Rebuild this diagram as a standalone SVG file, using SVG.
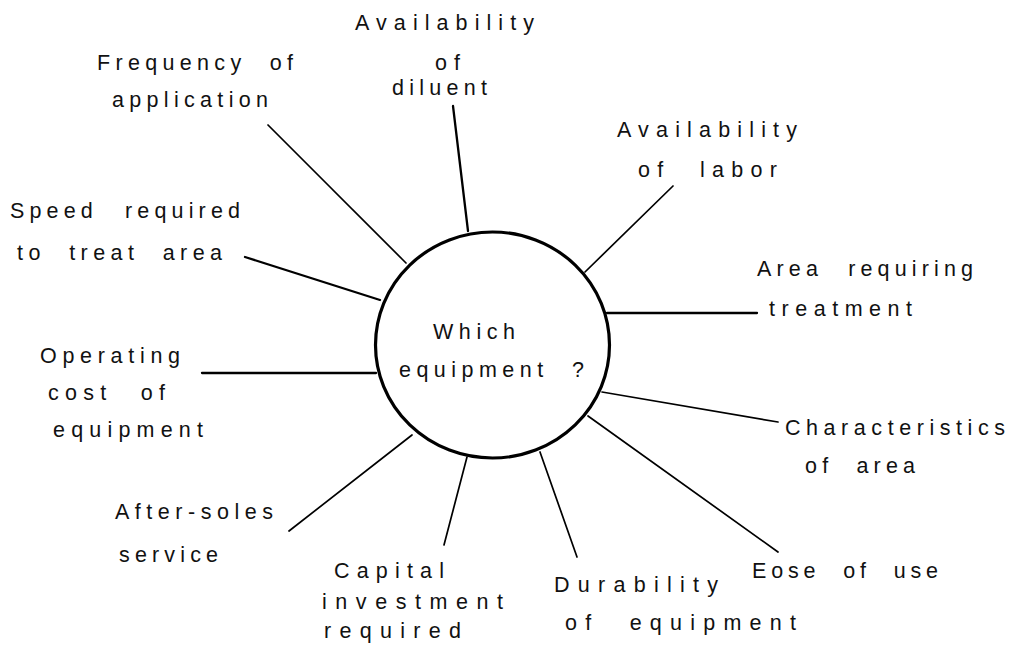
<svg xmlns="http://www.w3.org/2000/svg" width="1014" height="648" viewBox="0 0 1014 648">
  <style>
    text { font-family: "Liberation Sans", Arial, sans-serif; font-size: 21.5px; fill: #111; letter-spacing: 6px; word-spacing: 12px; }
    .hub { fill: #fff; stroke: #000; stroke-width: 3.2; }
    .spoke { stroke: #000; stroke-width: 1.7; fill: none; stroke-linecap: round; }
    .thick { stroke-width: 2.3; }
  </style>
  <rect width="1014" height="648" fill="#fff"/>

  <!-- spokes from the hub to each factor -->
  <g id="connectors">
    <line class="spoke thick" x1="453" y1="106" x2="468" y2="231"/>
    <line class="spoke" x1="268" y1="125" x2="406" y2="263"/>
    <line class="spoke thick" x1="245" y1="257" x2="380" y2="300"/>
    <line class="spoke thick" x1="202" y1="373" x2="376" y2="373"/>
    <line class="spoke" x1="289" y1="531" x2="412" y2="435"/>
    <line class="spoke" x1="444" y1="545" x2="467" y2="457"/>
    <line class="spoke" x1="577" y1="557" x2="540" y2="452"/>
    <line class="spoke" x1="778" y1="552" x2="588" y2="416"/>
    <line class="spoke" x1="778" y1="422" x2="602" y2="392"/>
    <line class="spoke thick" x1="757" y1="313" x2="607" y2="313"/>
    <line class="spoke" x1="673" y1="186" x2="585" y2="272"/>
  </g>

  <g id="hub">
    <ellipse class="hub" cx="492.5" cy="345" rx="117" ry="113"/>
    <text x="433" y="339" textLength="88" lengthAdjust="spacing">Which</text>
    <text x="399" y="377" textLength="191" lengthAdjust="spacing">equipment ?</text>
  </g>

  <g id="availability-diluent">
    <text x="355" y="30" textLength="185" lengthAdjust="spacing">Availability</text>
    <text x="435" y="70" textLength="31" lengthAdjust="spacing">of</text>
    <text x="392" y="95" textLength="101" lengthAdjust="spacing">diluent</text>
  </g>

  <g id="frequency">
    <text x="97" y="70" textLength="202" lengthAdjust="spacing">Frequency of</text>
    <text x="112" y="107" textLength="162" lengthAdjust="spacing">application</text>
  </g>

  <g id="speed">
    <text x="10" y="218" textLength="236" lengthAdjust="spacing" style="word-spacing:16px">Speed required</text>
    <text x="17" y="260" textLength="211" lengthAdjust="spacing">to treat area</text>
  </g>

  <g id="operating-cost">
    <text x="40" y="363" textLength="146" lengthAdjust="spacing">Operating</text>
    <text x="48" y="400" textLength="123" lengthAdjust="spacing" style="word-spacing:16px">cost of</text>
    <text x="53" y="437" textLength="156" lengthAdjust="spacing">equipment</text>
  </g>

  <g id="after-sales">
    <text x="115" y="519" textLength="164" lengthAdjust="spacing">After-soles</text>
    <text x="119" y="562" textLength="105" lengthAdjust="spacing">service</text>
  </g>

  <g id="capital">
    <text x="334" y="578" textLength="116" lengthAdjust="spacing">Capital</text>
    <text x="322" y="609" textLength="187" lengthAdjust="spacing">investment</text>
    <text x="324" y="638" textLength="143" lengthAdjust="spacing">required</text>
  </g>

  <g id="durability">
    <text x="554" y="592" textLength="170" lengthAdjust="spacing">Durability</text>
    <text x="565" y="630" textLength="237" lengthAdjust="spacing" style="word-spacing:16px">of equipment</text>
  </g>

  <g id="ease-of-use">
    <text x="752" y="578" textLength="192" lengthAdjust="spacing">Eose of use</text>
  </g>

  <g id="characteristics">
    <text x="785" y="435" textLength="226" lengthAdjust="spacing">Characteristics</text>
    <text x="805" y="473" textLength="116" lengthAdjust="spacing">of area</text>
  </g>

  <g id="area-requiring">
    <text x="757" y="276" textLength="222" lengthAdjust="spacing" style="word-spacing:14px">Area requiring</text>
    <text x="769" y="316" textLength="149" lengthAdjust="spacing">treatment</text>
  </g>

  <g id="availability-labor">
    <text x="617" y="137" textLength="186" lengthAdjust="spacing">Availability</text>
    <text x="638" y="177" textLength="145" lengthAdjust="spacing" style="word-spacing:16px">of labor</text>
  </g>
</svg>
